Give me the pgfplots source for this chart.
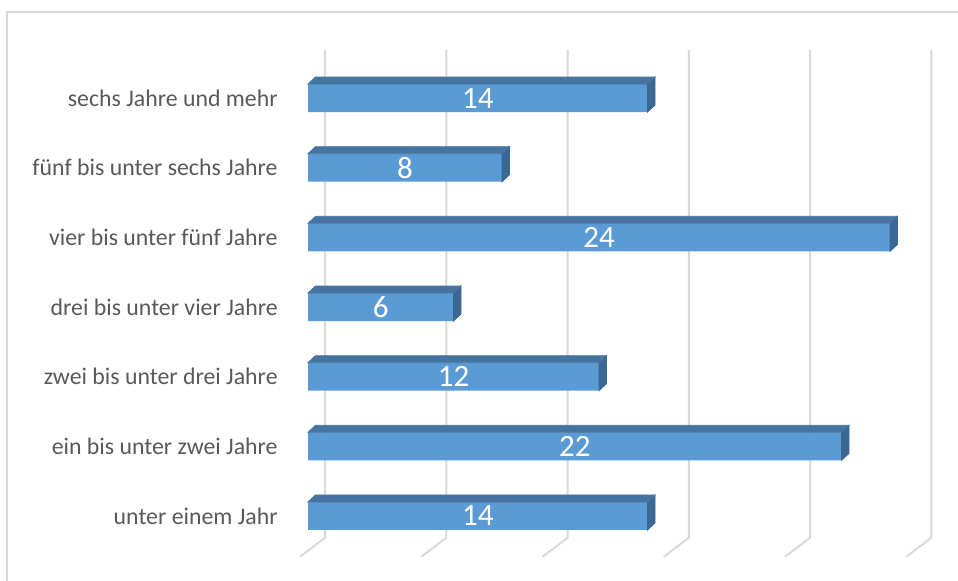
\documentclass[border=0pt]{standalone}
\usepackage{pgfplots}
\usepackage{pgfplotstable}
\usepackage{fontspec}
\setmainfont{Carlito}
\pgfplotsset{compat=1.18}

\definecolor{barfront}{HTML}{5B9BD5}
\definecolor{bartop}{HTML}{4674A0}
\definecolor{barside}{HTML}{3B6793}
\definecolor{gridcol}{HTML}{D9D9D9}
\definecolor{labelcol}{HTML}{595959}

% c = category position (bottom to top), v = value
\pgfplotstableread{
c v
0 14
1 22
2 12
3 6
4 24
5 8
6 14
}\durations

\begin{document}
\begin{tikzpicture}
\draw[gridcol, line width=0.75pt] (-150.5pt,-20pt) -- (-150.5pt,269.4pt) -- (330pt,269.4pt);
\begin{axis}[
  set layers,
  scale only axis,
  width=303.125pt, height=243.8pt,
  xmin=0, xmax=25, ymin=-0.5, ymax=6.5,
  axis line style={draw=none},
  xtick=\empty,
  ytick={0,...,6},
  yticklabels={unter einem Jahr, ein bis unter zwei Jahre, zwei bis unter drei Jahre,
    drei bis unter vier Jahre, vier bis unter fünf Jahre, fünf bis unter sechs Jahre,
    sechs Jahre und mehr},
  major tick length=0pt,
  yticklabel style={font=\fontsize{11.9}{13}\selectfont, text=labelcol, anchor=east,
    inner sep=0pt, xshift=-15pt},
  clip=false,
  /pgf/number format/assume math mode=true,
]
% gridlines on the back wall, bent forward along the floor
\begin{pgfonlayer}{axis background}
\pgfplotsinvokeforeach{0,5,...,25}{
  \draw[gridcol, line width=1pt]
    ([shift={(-4pt,-3pt)}]axis cs:#1,-0.5)
    -- ([shift={(8.5pt,6.5pt)}]axis cs:#1,-0.5)
    -- ([shift={(8.5pt,6.5pt)}]axis cs:#1,6.5);
}
\end{pgfonlayer}

% front faces
\addplot[xbar, bar width=14pt, fill=barfront, draw=none]
  table[x=v, y=c] {\durations};

% top and side faces
\addplot[scatter, only marks, mark=*, mark size=0pt, mark options={draw=none, fill=none},
  visualization depends on={\thisrow{v} \as \len},
  scatter/@pre marker code/.code={
    \fill[barside] (0pt,-7pt) -- (0pt,7pt) -- (3.75pt,10.5pt) -- (3.75pt,-3.5pt) -- cycle;
    \fill[bartop] (0pt,7pt) -- (3.75pt,10.5pt)
      -- ([shift={(3.75pt,10.5pt)}]axis direction cs:-\len,0)
      -- ([shift={(0pt,7pt)}]axis direction cs:-\len,0) -- cycle;
  },
  scatter/@post marker code/.code={},
] table[x=v, y=c] {\durations};

% value labels in the middle of each bar
\addplot[draw=none, mark=none, nodes near coords, point meta=explicit,
  every node near coord/.append style={anchor=center, text=white,
    font=\fontsize{15.5}{16}\selectfont}]
  table[x expr=\thisrow{v}/2, y=c, meta=v] {\durations};
\end{axis}
\pgfresetboundingbox
\useasboundingbox (-154pt,-14.6pt) rectangle (325pt,275.4pt);
\end{tikzpicture}
\end{document}
